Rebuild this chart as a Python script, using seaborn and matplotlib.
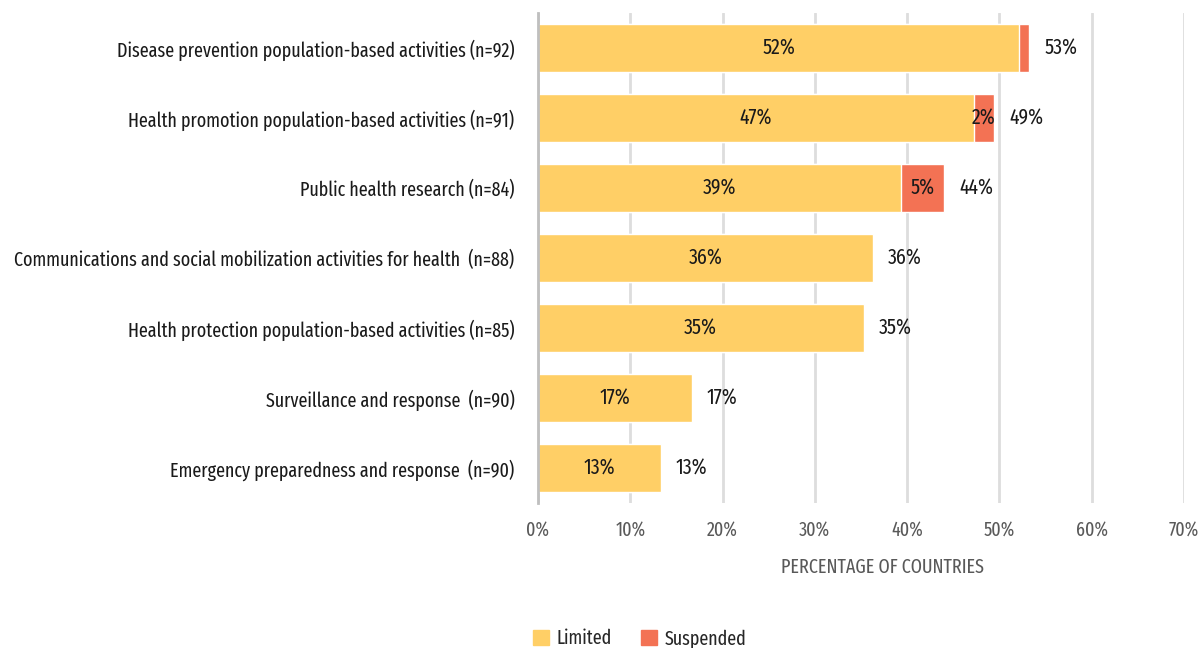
import numpy as np
import pandas as pd
import matplotlib.pyplot as plt
import seaborn as sns
from matplotlib.patches import Patch

# data (share of countries, %)
categories = [
    'Disease prevention population-based activities (n=92)',
    'Health promotion population-based activities (n=91)',
    'Public health research (n=84)',
    'Communications and social mobilization activities for health  (n=88)',
    'Health protection population-based activities (n=85)',
    'Surveillance and response  (n=90)',
    'Emergency preparedness and response  (n=90)',
]
limited = [52.17, 47.25, 39.29, 36.36, 35.29, 16.67, 13.33]
suspended = [1.09, 2.20, 4.76, 0.0, 0.0, 0.0, 0.0]
x_ticks = [0, 10, 20, 30, 40, 50, 60, 70]

LIM_COLOR = '#FFCF66'
SUS_COLOR = '#F37254'
FS = 14.1
FS_VAL = 15.5

sns.set_theme(style='white')
plt.rcParams['font.family'] = ['Fira Sans Extra Condensed', 'Fira Sans Condensed', 'DejaVu Sans']

df = pd.DataFrame({'category': categories, 'Limited': limited, 'Suspended': suspended})
df['total'] = df['Limited'] + df['Suspended']

fig = plt.figure(figsize=(12, 6.48), dpi=100)
ax = fig.add_axes([0.4483, 0.2238, 0.5383, 0.7562])

# stacked bars: totals in red, limited drawn on top
sns.barplot(data=df, x='total', y='category', color=SUS_COLOR, saturation=1,
            width=0.68, ax=ax, zorder=2)
sns.barplot(data=df, x='Limited', y='category', color=LIM_COLOR, saturation=1,
            width=0.68, ax=ax, zorder=3)

for i, row in df.iterrows():
    ax.text(row['Limited'] / 2, i, f"{round(row['Limited']):.0f}%", ha='center', va='center',
            fontsize=FS_VAL, color='#1a1a1a', zorder=5)
    if row['Suspended'] >= 2:
        ax.text(row['Limited'] + row['Suspended'] / 2, i, f"{round(row['Suspended']):.0f}%",
                ha='center', va='center', fontsize=FS_VAL, color='#1a1a1a', zorder=5)
    ax.text(row['total'] + 1.6, i, f"{round(row['total']):.0f}%", ha='left', va='center',
            fontsize=FS_VAL, color='#1a1a1a', zorder=5)

ax.set_xlim(0, 70)
ax.set_ylim(6.5, -0.5)
ax.set_xticks(x_ticks)
ax.set_xticklabels([f'{t}%' for t in x_ticks], fontsize=FS, color='#595959')
ax.tick_params(axis='x', length=0, pad=12)
ax.tick_params(axis='y', length=0, pad=17, labelsize=FS, labelcolor='#1a1a1a')
ax.set_ylabel('')
ax.set_xlabel('PERCENTAGE OF COUNTRIES', fontsize=FS, color='#595959')
ax.xaxis.set_label_coords(0.534, -0.112)

ax.grid(axis='x', color='#DDDDDD', linewidth=2, zorder=0)
ax.set_axisbelow(True)
for s in ['top', 'right', 'bottom']:
    ax.spines[s].set_visible(False)
ax.spines['left'].set_color('#BFBFBF')
ax.spines['left'].set_linewidth(2)
ax.spines['left'].set_zorder(6)

handles = [Patch(color=LIM_COLOR, label='Limited'), Patch(color=SUS_COLOR, label='Suspended')]
fig.legend(handles=handles, loc='lower center', bbox_to_anchor=(0.533, -0.028), ncol=2,
           frameon=False, fontsize=FS, handlelength=0.8, handleheight=0.8,
           handletextpad=0.4, columnspacing=1.5)

fig.savefig('out.png', dpi=100)
